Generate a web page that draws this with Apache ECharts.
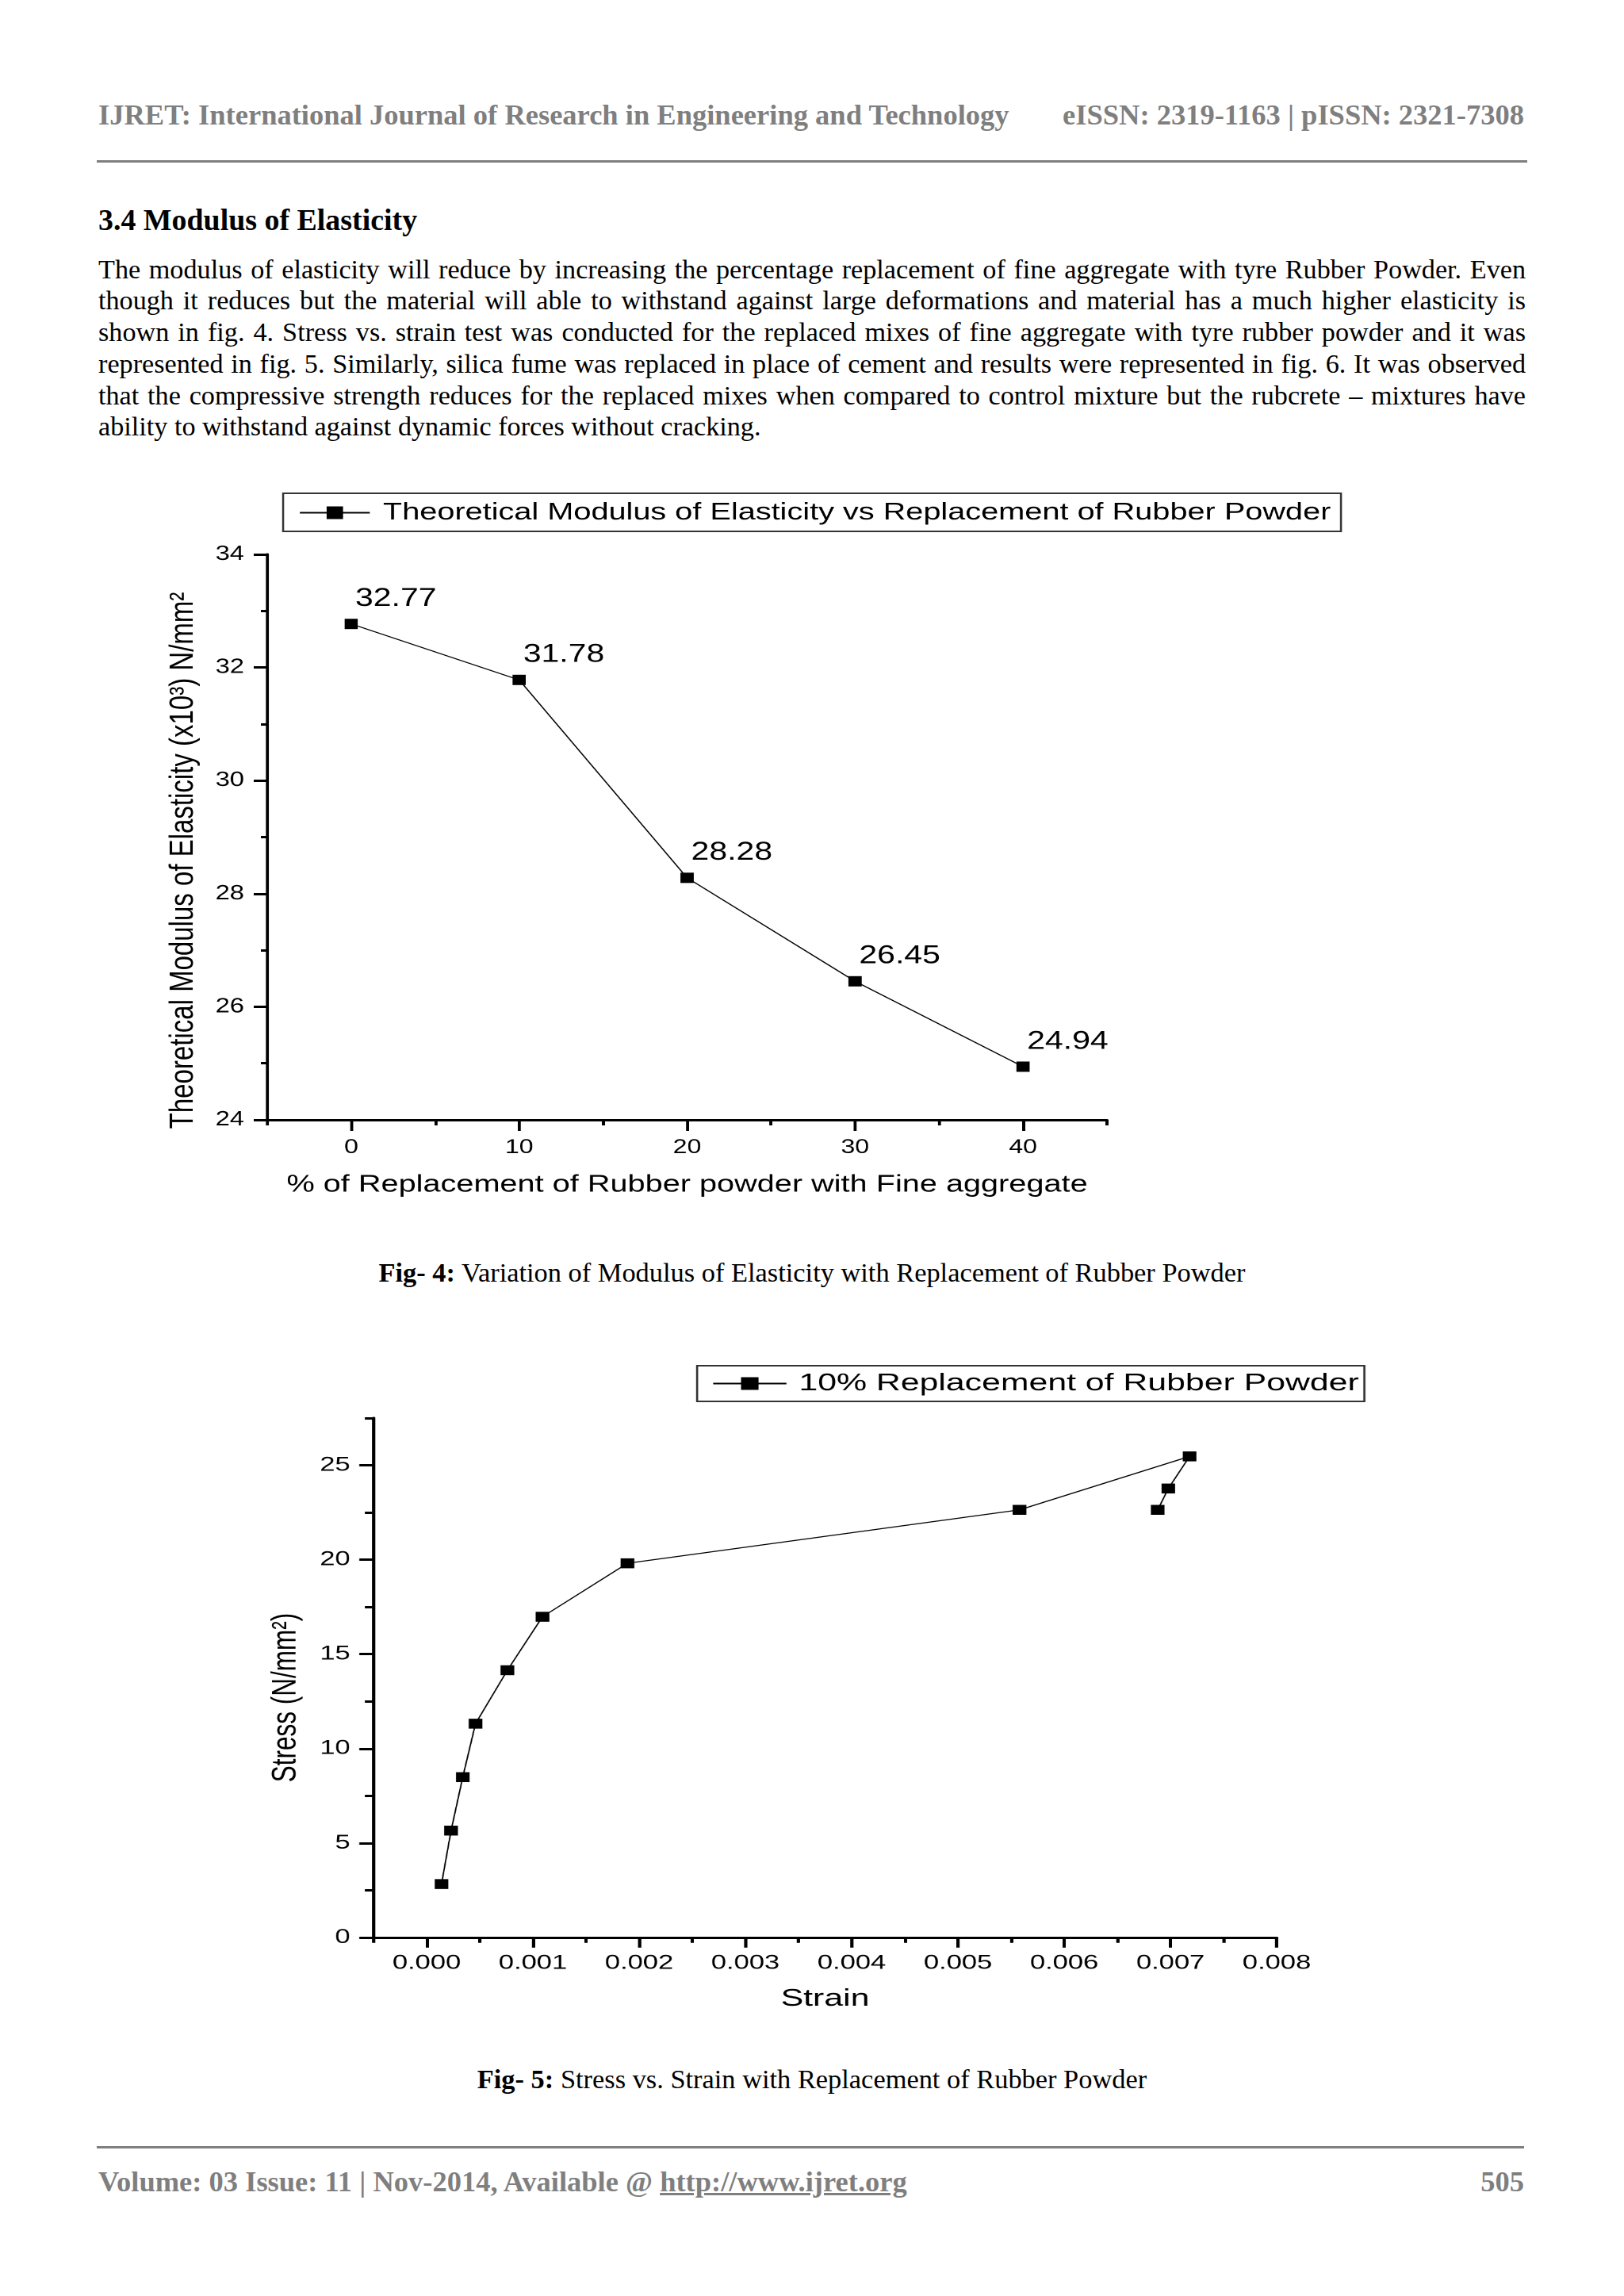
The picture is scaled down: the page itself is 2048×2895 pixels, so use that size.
<!DOCTYPE html>
<html>
<head>
<meta charset="utf-8">
<script src="https://cdn.jsdelivr.net/npm/echarts@6/dist/echarts.min.js"></script>
<style>
html,body{margin:0;padding:0;background:#fff;}
body{width:2048px;height:2895px;position:relative;overflow:hidden;font-family:"Liberation Serif","Times New Roman",serif;color:#000;}
.abs{position:absolute;white-space:nowrap;line-height:1.2;}
.gray{font-weight:bold;color:#7f7f7f;font-size:36.5px;}
.rule{position:absolute;background:#7f7f7f;}
#para{position:absolute;left:124px;top:319.5px;width:1800px;font-size:34.2px;line-height:39.8px;}
#para div{text-align:justify;text-align-last:justify;}
#para div.last{text-align-last:left;}
.cap{position:absolute;left:0;width:2048px;text-align:center;font-size:34.4px;line-height:1.2;white-space:nowrap;}
.chart{position:absolute;left:0;transform-origin:0 0;}
</style>
</head>
<body>
<div class="abs gray" style="left:124px;top:122.8px;">IJRET: International Journal of Research in Engineering and Technology</div>
<div class="abs gray" style="right:126px;top:122.8px;">eISSN: 2319-1163 | pISSN: 2321-7308</div>
<div class="rule" style="left:122px;top:201.5px;width:1804px;height:3.5px;"></div>

<div class="abs" style="left:124px;top:254.5px;font-size:37.9px;font-weight:bold;">3.4 Modulus of Elasticity</div>

<div id="para">
<div>The modulus of elasticity will reduce by increasing the percentage replacement of fine aggregate with tyre Rubber Powder. Even</div>
<div>though it reduces but the material will able to withstand against large deformations and material has a much higher elasticity is</div>
<div>shown in fig. 4. Stress vs. strain test was conducted for the replaced mixes of fine aggregate with tyre rubber powder and it was</div>
<div>represented in fig. 5. Similarly, silica fume was replaced in place of cement and results were represented in fig. 6. It was observed</div>
<div>that the compressive strength reduces for the replaced mixes when compared to control mixture but the rubcrete – mixtures have</div>
<div class="last">ability to withstand against dynamic forces without cracking.</div>
</div>

<div id="fig4" class="chart" style="top:600px;width:1600px;height:960px;transform:scaleX(1.28);"></div>
<div class="cap" style="top:1583.75px;"><b>Fig- 4:</b> Variation of Modulus of Elasticity with Replacement of Rubber Powder</div>

<div id="fig5" class="chart" style="top:1700px;width:1484.06px;height:880px;transform:scaleX(1.38);"></div>
<div class="cap" style="top:2600.75px;"><b>Fig- 5:</b> Stress vs. Strain with Replacement of Rubber Powder</div>

<div class="rule" style="left:122px;top:2705.5px;width:1800px;height:3.5px;"></div>
<div class="abs gray" style="left:124px;top:2728.8px;">Volume: 03 Issue: 11 | Nov-2014, Available @ <span style="text-decoration:underline;">http://www.ijret.org</span></div>
<div class="abs gray" style="right:126px;top:2728.8px;">505</div>

<script>
// ---------- Fig 4 data ----------
const fig4Replacement = [0, 10, 20, 30, 40];
const fig4Modulus = [32.77, 31.78, 28.28, 26.45, 24.94];
const fig4XTicks = [0, 10, 20, 30, 40];
const fig4XMinorTicks = [-5, 5, 15, 25, 35, 45];
const fig4YTicks = [24, 26, 28, 30, 32, 34];
const fig4YMinorTicks = [25, 27, 29, 31, 33];

// ---------- Fig 5 data ----------
const fig5Strain = [0.00014, 0.00023, 0.00034, 0.00046, 0.00076, 0.00109, 0.00189, 0.00558, 0.00718, 0.00698, 0.00688];
const fig5Stress = [2.83, 5.66, 8.49, 11.32, 14.15, 16.98, 19.81, 22.64, 25.47, 23.77, 22.64];
const fig5XTicks = [0, 0.001, 0.002, 0.003, 0.004, 0.005, 0.006, 0.007, 0.008];
const fig5XMinorTicks = [-0.0005, 0.0005, 0.0015, 0.0025, 0.0035, 0.0045, 0.0055, 0.0065, 0.0075];
const fig5YTicks = [0, 5, 10, 15, 20, 25];
const fig5YMinorTicks = [2.5, 7.5, 12.5, 17.5, 22.5, 27.5];

const FONT = '"Liberation Sans", Arial, Helvetica, sans-serif';
const BLACK = '#000';

function minorAxis(pos, min, max, ticks, len) {
  return {
    type: 'value', min: min, max: max, position: pos,
    axisLine: { show: false, onZero: false },
    axisTick: { show: true, customValues: ticks, length: len, lineStyle: { color: BLACK, width: 3 } },
    axisLabel: { show: false },
    splitLine: { show: false }
  };
}

// ---------- Fig 4 ----------
const fig4Name = 'Theoretical Modulus of Elasticity vs Replacement of Rubber Powder';
const c1 = echarts.init(document.getElementById('fig4'), null, { renderer: 'canvas', devicePixelRatio: 2 });
c1.setOption({
  animation: false,
  textStyle: { fontFamily: FONT, color: BLACK },
  legend: {
    data: [fig4Name], left: 278.9, top: 22, padding: [9, 10, 8, 15.6],
    borderColor: '#333', borderWidth: 2, itemWidth: 68.8, itemHeight: 20,
    textStyle: { fontSize: 31, color: BLACK, fontFamily: FONT, padding: [0, 0, 0, 8] }
  },
  grid: { left: 263.3, top: 99, width: 827.3, height: 713, containLabel: false, outerBoundsMode: 'none' },
  xAxis: [{
    type: 'value', min: -5, max: 45, position: 'bottom',
    name: '% of Replacement of Rubber powder with Fine aggregate',
    nameLocation: 'middle', nameGap: 66.7,
    nameTextStyle: { fontSize: 31, color: BLACK, fontFamily: FONT },
    axisLine: { onZero: false, lineStyle: { color: BLACK, width: 3 } },
    axisTick: { customValues: fig4XTicks, length: 14, lineStyle: { color: BLACK, width: 3 } },
    axisLabel: { customValues: fig4XTicks, margin: 22.5, fontSize: 25, color: BLACK, fontFamily: FONT },
    splitLine: { show: false }
  }, minorAxis('bottom', -5, 45, fig4XMinorTicks, 7)],
  yAxis: [{
    type: 'value', min: 24, max: 34, position: 'left',
    name: 'Theoretical Modulus of Elasticity (x10³) N/mm²',
    nameLocation: 'middle', nameGap: 66,
    nameTextStyle: { fontSize: 33, color: BLACK, fontFamily: FONT, padding: [0, 59, 0, 0] },
    axisLine: { onZero: false, lineStyle: { color: BLACK, width: 3 } },
    axisTick: { customValues: fig4YTicks, length: 13.3, lineStyle: { color: BLACK, width: 3 } },
    axisLabel: { customValues: fig4YTicks, margin: 22.7, fontSize: 25.5, color: BLACK, fontFamily: FONT },
    splitLine: { show: false }
  }, minorAxis('left', 24, 34, fig4YMinorTicks, 6.3)],
  series: [{
    name: fig4Name, type: 'line',
    data: fig4Replacement.map((x, i) => [x, fig4Modulus[i]]),
    symbol: 'rect', symbolSize: 13,
    itemStyle: { color: BLACK },
    lineStyle: { color: BLACK, width: 1.3 },
    label: {
      show: true, position: 'top', offset: [44, -4],
      fontSize: 32, color: BLACK, fontFamily: FONT,
      formatter: p => p.value[1].toFixed(2)
    }
  }]
});

// ---------- Fig 5 ----------
const fig5Name = '10% Replacement of Rubber Powder';
const c2 = echarts.init(document.getElementById('fig5'), null, { renderer: 'canvas', devicePixelRatio: 2 });
c2.setOption({
  animation: false,
  textStyle: { fontFamily: FONT, color: BLACK },
  legend: {
    data: [fig5Name], left: 637, top: 22, padding: [7, 5, 7, 13.7],
    borderColor: '#333', borderWidth: 2, itemWidth: 67, itemHeight: 20,
    textStyle: { fontSize: 31, color: BLACK, fontFamily: FONT, padding: [0, 0, 0, 6.3] }
  },
  grid: { left: 341.3, top: 88, width: 825.4, height: 655, containLabel: false, outerBoundsMode: 'none' },
  xAxis: [{
    type: 'value', min: -0.0005, max: 0.008, position: 'bottom',
    name: 'Strain', nameLocation: 'middle', nameGap: 62,
    nameTextStyle: { fontSize: 31, color: BLACK, fontFamily: FONT },
    axisLine: { onZero: false, lineStyle: { color: BLACK, width: 3 } },
    axisTick: { customValues: fig5XTicks, length: 12.7, lineStyle: { color: BLACK, width: 3 } },
    axisLabel: { customValues: fig5XTicks, margin: 20, fontSize: 25, color: BLACK, fontFamily: FONT,
                 formatter: v => Number(v).toFixed(3) },
    splitLine: { show: false }
  }, minorAxis('bottom', -0.0005, 0.008, fig5XMinorTicks, 6.7)],
  yAxis: [{
    type: 'value', min: 0, max: 27.5, position: 'left',
    name: 'Stress (N/mm²)', nameLocation: 'middle', nameGap: 64,
    nameTextStyle: { fontSize: 31.5, color: BLACK, fontFamily: FONT, padding: [0, 50, 0, 0] },
    axisLine: { onZero: false, lineStyle: { color: BLACK, width: 3 } },
    axisTick: { customValues: fig5YTicks, length: 13, lineStyle: { color: BLACK, width: 3 } },
    axisLabel: { customValues: fig5YTicks, margin: 21.3, fontSize: 25, color: BLACK, fontFamily: FONT },
    splitLine: { show: false }
  }, minorAxis('left', 0, 27.5, fig5YMinorTicks, 7.8)],
  series: [{
    name: fig5Name, type: 'line',
    data: fig5Strain.map((x, i) => [x, fig5Stress[i]]),
    symbol: 'rect', symbolSize: 12.5,
    itemStyle: { color: BLACK },
    lineStyle: { color: BLACK, width: 1.3 }
  }]
});
</script>
</body>
</html>
